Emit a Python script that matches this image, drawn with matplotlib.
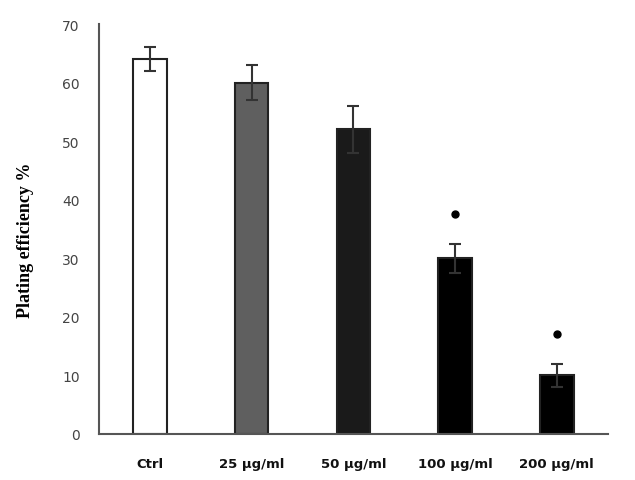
import numpy as np
import matplotlib.pyplot as plt

# data
groups = ["Ctrl", "25 µg/ml", "50 µg/ml", "100 µg/ml", "200 µg/ml"]
efficiency = [64, 60, 52, 30, 10]
errors = [2, 3, 4, 2.5, 2]
significant = [False, False, False, True, True]
bar_colors = ["white", "#5f5f5f", "#1a1a1a", "black", "black"]

fig, ax = plt.subplots(figsize=(6.35, 4.81), dpi=100)
fig.subplots_adjust(left=0.156, right=0.957, bottom=0.096, top=0.948)

x = np.arange(len(groups))
ax.bar(x, efficiency, width=0.33, color=bar_colors, edgecolor="#222222",
       linewidth=1.5, zorder=2)
ax.errorbar(x, efficiency, yerr=errors, fmt="none", ecolor="#333333",
            elinewidth=1.5, capsize=4, capthick=1.5, zorder=3)

# significance markers above the bars
for xi, v, e, s in zip(x, efficiency, errors, significant):
    if s:
        ax.plot(xi, v + e + 5, "o", color="black", markersize=5, zorder=4)

ax.set_xlim(-0.5, len(groups) - 0.5)
ax.set_ylim(0, 70)
ax.set_yticks(range(0, 71, 10))
ax.set_xticks(x)
ax.set_xticklabels(groups, fontsize=9.5, fontweight="bold", color="#111111")
ax.tick_params(axis="y", length=0, pad=14, labelsize=10, labelcolor="#444444")
ax.tick_params(axis="x", length=0, pad=17)

for side in ["top", "right"]:
    ax.spines[side].set_visible(False)
for side in ["left", "bottom"]:
    ax.spines[side].set_color("#555555")
    ax.spines[side].set_linewidth(1.5)

ax.set_ylabel("Plating efficiency %", fontsize=13, fontweight="bold",
              family="Liberation Serif", labelpad=20, y=0.475)

plt.savefig("out.png", dpi=100)
